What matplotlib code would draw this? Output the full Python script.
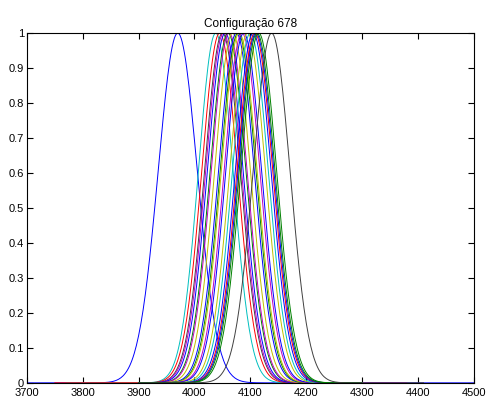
import numpy as np
import matplotlib
matplotlib.use("Agg")
import matplotlib.pyplot as plt

# Centros, larguras e cores de cada curva
centros = [3970, 4038, 4045, 4050, 4052, 4055, 4060, 4062, 4068, 4075, 4078,
           4080, 4085, 4088, 4095, 4100, 4105, 4108, 4110, 4112, 4115, 4138]
sigmas = [35, 31, 32, 32, 32, 32, 32, 32, 32, 32, 32,
          32, 32, 32, 32, 32, 32, 32, 32, 32, 32, 33]
cores = ['b', 'c', 'r', 'k', 'm', 'b', 'g', 'm', 'y', 'b', 'g',
         'y', 'm', 'b', 'y', 'c', 'b', 'r', 'b', 'g', 'g', 'k']
x_ini = [3700, 3770, 3750, 3900, 3900, 3900, 3900, 3900, 3900, 3900, 3900,
         3900, 3900, 3900, 3900, 3900, 3900, 3900, 3900, 3900, 3900, 3900]
x_fim = [4500, 4300, 4300, 4300, 4380, 4300, 4300, 4300, 4300, 4300, 4300,
         4300, 4300, 4300, 4300, 4300, 4300, 4300, 4300, 4300, 4300, 4410]

cmap = {'b': (0, 0, 1), 'g': (0, 0.5, 0), 'r': (1, 0, 0), 'c': (0, 0.75, 0.75),
        'm': (0.75, 0, 0.75), 'y': (0.75, 0.75, 0), 'k': (0.25, 0.25, 0.25)}

plt.rcParams['font.family'] = ['Liberation Sans', 'DejaVu Sans']

fig = plt.figure(figsize=(4.89, 4.03), dpi=100)
ax = fig.add_axes([0.055, 0.05, 0.914, 0.868])

for c, s, cor, a, b in zip(centros, sigmas, cores, x_ini, x_fim):
    x = np.arange(a, b + 1, 2.0)
    y = np.exp(-0.5 * ((x - c) / s) ** 2)
    ax.plot(x, y, color=cmap[cor], linewidth=0.7)

ax.set_xlim(3700, 4500)
ax.set_ylim(0, 1)
ax.set_xticks(np.arange(3700, 4501, 100))
ax.set_yticks(np.arange(0, 1.01, 0.1))
ax.set_yticklabels(['0', '0.1', '0.2', '0.3', '0.4', '0.5', '0.6', '0.7', '0.8', '0.9', '1'])
ax.tick_params(direction='in', top=True, right=True, labelsize=8, length=4)
ax.tick_params(axis='x', pad=4)
ax.tick_params(axis='y', pad=2)
for sp in ax.spines.values():
    sp.set_linewidth(0.8)
ax.set_title('Configuração 678', fontsize=8.5, pad=4)

fig.savefig('out.png', dpi=100)
